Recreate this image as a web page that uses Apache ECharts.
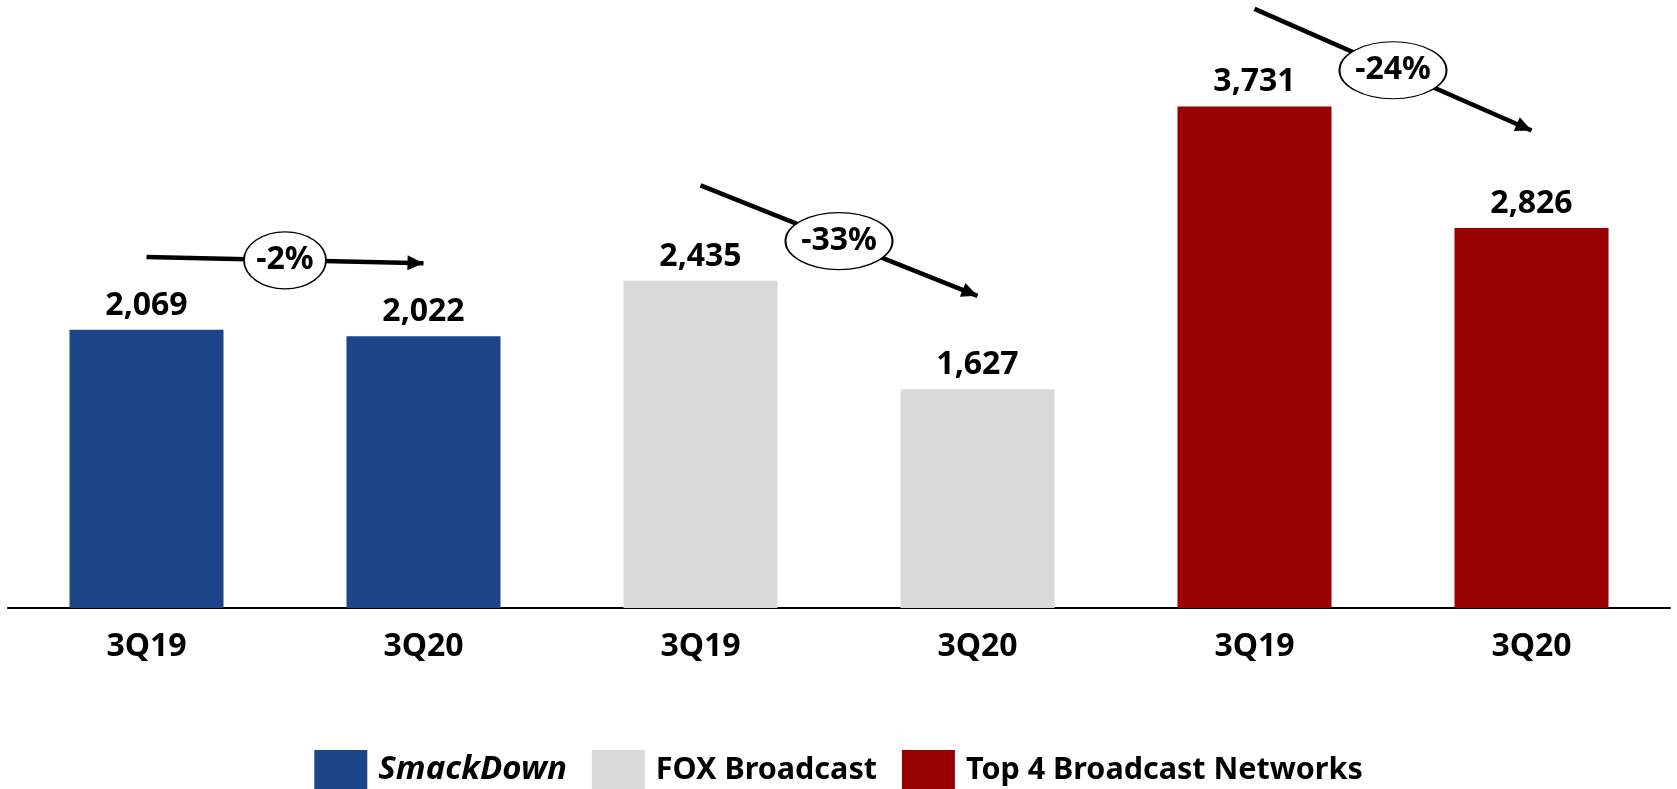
<!DOCTYPE html>
<html>
<head>
<meta charset="utf-8">
<title>Viewership</title>
<script src="https://cdn.jsdelivr.net/npm/echarts@6/dist/echarts.min.js"></script>
<style>
  html, body { margin: 0; padding: 0; background: #fff; }
  #chart { width: 1677px; height: 789px; }
</style>
</head>
<body>
<div id="chart"></div>
<script>
// periods shown under each group of bars
const periods = ['3Q19', '3Q20'];
const groups = ['SmackDown', 'FOX Broadcast', 'Top 4 Broadcast Networks'];
const smackdownValues = [2069, 2022];
const foxValues = [2435, 1627];
const top4Values = [3731, 2826];
const groupColors = ['#1D4589', '#D9D9D9', '#990000'];

// change annotations: arrow from 3Q19 to 3Q20 with a badge in the middle
const changeLabels = ['-2%', '-33%', '-24%'];
const arrowStart = [2610, 3143, 4456];
const arrowEnd = [2565, 2322, 3552];
const badgeY = [2586, 2729, 4000];

const FONT = 'Noto Sans';
const groupValues = [smackdownValues, foxValues, top4Values];

// 6 category slots: 2 periods per group
const categories = [];
groups.forEach(() => periods.forEach(p => categories.push(p)));

const barSeries = groups.map((name, gi) => {
  const data = categories.map(() => null);
  groupValues[gi].forEach((v, pi) => { data[gi * periods.length + pi] = v; });
  return {
    name: name,
    type: 'bar',
    stack: 'all',
    barWidth: 154,
    data: data,
    itemStyle: { color: groupColors[gi] },
    label: {
      show: true,
      position: 'top',
      distance: 8,
      color: '#000',
      fontFamily: FONT,
      fontWeight: 'bold',
      fontSize: 32,
      formatter: p => p.value.toLocaleString('en-US')
    },
    emphasis: { disabled: true },
    silent: true
  };
});

const badgeData = changeLabels.map((t, i) => ({
  name: t,
  value: [i * periods.length + 0.5, badgeY[i]]
}));

const arrowData = changeLabels.map((t, i) => [
  { coord: [i * periods.length, arrowStart[i]] },
  { coord: [i * periods.length + 1, arrowEnd[i]] }
]);

const option = {
  animation: false,
  grid: { left: 8, right: 7, top: 3, bottom: 181 },
  legend: {
    data: groups,
    left: 'center',
    top: 745,
    icon: 'rect',
    itemWidth: 53,
    itemHeight: 40,
    itemGap: 25,
    selectedMode: false,
    textStyle: {
      color: '#000',
      fontFamily: FONT,
      fontWeight: 'bold',
      fontSize: 30.5,
      padding: [0, 0, 0, 6],
      rich: {
        i: { fontFamily: FONT, fontWeight: 'bold', fontStyle: 'italic', fontSize: 33, color: '#000' }
      }
    },
    formatter: name => name === 'SmackDown' ? '{i|' + name + '}' : name
  },
  xAxis: [
    {
      type: 'category',
      data: categories,
      axisLine: { lineStyle: { color: '#000', width: 2 } },
      axisTick: { show: false },
      axisLabel: {
        color: '#000',
        fontFamily: FONT,
        fontWeight: 'bold',
        fontSize: 32,
        margin: 23,
        interval: 0
      }
    },
    { type: 'value', min: -0.5, max: 5.5, show: false }
  ],
  yAxis: { type: 'value', min: 0, max: 4500, show: false },
  series: barSeries.concat([{
    type: 'scatter',
    xAxisIndex: 1,
    z: 10,
    silent: true,
    symbol: 'circle',
    symbolSize: (v, p) => [7 + 25 * p.name.length, 57],
    itemStyle: { color: '#fff', borderColor: '#000', borderWidth: 1.5, opacity: 1 },
    label: {
      show: true,
      position: 'inside',
      formatter: p => p.name,
      color: '#000',
      fontFamily: FONT,
      fontWeight: 'bold',
      fontSize: 32
    },
    emphasis: { disabled: true },
    data: badgeData,
    markLine: {
      silent: true,
      z: 3,
      symbol: ['none', 'triangle'],
      symbolSize: [15, 16],
      symbolOffset: [0, [0, 8]],
      label: { show: false },
      lineStyle: { color: '#000', width: 4.5, type: 'solid' },
      emphasis: { disabled: true },
      data: arrowData
    }
  }])
};

const chart = echarts.init(document.getElementById('chart'));
chart.setOption(option);
</script>
</body>
</html>
